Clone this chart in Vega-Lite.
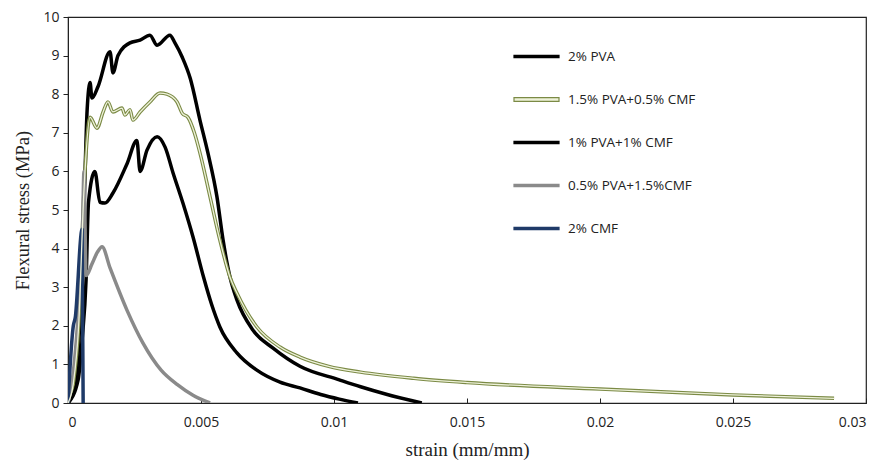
{
  "$schema": "https://vega.github.io/schema/vega-lite/v6.json",
  "width": 798,
  "height": 386,
  "autosize": {"type": "none"},
  "padding": {"left": 68, "top": 17, "right": 14, "bottom": 65},
  "background": "white",
  "config": {
    "view": {"stroke": "#222222", "strokeWidth": 1.2},
    "axis": {"grid": false, "domainColor": "#222222", "tickColor": "#222222", "labelColor": "#222222", "titleColor": "#222222", "labelFont": "Open Sans", "labelFontSize": 14, "titleFont": "Liberation Serif", "titleFontSize": 19, "titleFontWeight": "normal", "labelOverlap": false}
  },
  "data": {"values": [
    {"s": "2% PVA", "x": 0, "y": 0},
    {"s": "2% PVA", "x": 0.0002, "y": 0.3},
    {"s": "2% PVA", "x": 0.0004, "y": 1.5},
    {"s": "2% PVA", "x": 0.0006, "y": 5.0},
    {"s": "2% PVA", "x": 0.00072, "y": 7.6},
    {"s": "2% PVA", "x": 0.00083, "y": 8.3},
    {"s": "2% PVA", "x": 0.0009, "y": 7.9},
    {"s": "2% PVA", "x": 0.00113, "y": 8.2},
    {"s": "2% PVA", "x": 0.00158, "y": 9.1},
    {"s": "2% PVA", "x": 0.00169, "y": 8.55},
    {"s": "2% PVA", "x": 0.00188, "y": 9.0},
    {"s": "2% PVA", "x": 0.00233, "y": 9.33},
    {"s": "2% PVA", "x": 0.00271, "y": 9.4},
    {"s": "2% PVA", "x": 0.00308, "y": 9.53},
    {"s": "2% PVA", "x": 0.00335, "y": 9.27},
    {"s": "2% PVA", "x": 0.00383, "y": 9.53},
    {"s": "2% PVA", "x": 0.00402, "y": 9.33},
    {"s": "2% PVA", "x": 0.0043, "y": 8.95},
    {"s": "2% PVA", "x": 0.0046, "y": 8.4},
    {"s": "2% PVA", "x": 0.00496, "y": 7.33},
    {"s": "2% PVA", "x": 0.00526, "y": 6.48},
    {"s": "2% PVA", "x": 0.0056, "y": 5.34},
    {"s": "2% PVA", "x": 0.00583, "y": 4.22},
    {"s": "2% PVA", "x": 0.00609, "y": 3.26},
    {"s": "2% PVA", "x": 0.00635, "y": 2.67},
    {"s": "2% PVA", "x": 0.00695, "y": 1.89},
    {"s": "2% PVA", "x": 0.00771, "y": 1.42},
    {"s": "2% PVA", "x": 0.00872, "y": 0.95},
    {"s": "2% PVA", "x": 0.0102, "y": 0.6},
    {"s": "2% PVA", "x": 0.011, "y": 0.42},
    {"s": "2% PVA", "x": 0.012, "y": 0.22},
    {"s": "2% PVA", "x": 0.0133, "y": 0},
    {"s": "1.5% PVA+0.5% CMF", "x": 0, "y": 0},
    {"s": "1.5% PVA+0.5% CMF", "x": 0.0002, "y": 0.5},
    {"s": "1.5% PVA+0.5% CMF", "x": 0.0004, "y": 2.0},
    {"s": "1.5% PVA+0.5% CMF", "x": 0.0006, "y": 5.5},
    {"s": "1.5% PVA+0.5% CMF", "x": 0.00083, "y": 7.4},
    {"s": "1.5% PVA+0.5% CMF", "x": 0.00109, "y": 7.12},
    {"s": "1.5% PVA+0.5% CMF", "x": 0.00132, "y": 7.54},
    {"s": "1.5% PVA+0.5% CMF", "x": 0.0015, "y": 7.8},
    {"s": "1.5% PVA+0.5% CMF", "x": 0.00169, "y": 7.54},
    {"s": "1.5% PVA+0.5% CMF", "x": 0.00203, "y": 7.64},
    {"s": "1.5% PVA+0.5% CMF", "x": 0.00214, "y": 7.46},
    {"s": "1.5% PVA+0.5% CMF", "x": 0.00233, "y": 7.6},
    {"s": "1.5% PVA+0.5% CMF", "x": 0.00244, "y": 7.33},
    {"s": "1.5% PVA+0.5% CMF", "x": 0.00271, "y": 7.54},
    {"s": "1.5% PVA+0.5% CMF", "x": 0.00308, "y": 7.8},
    {"s": "1.5% PVA+0.5% CMF", "x": 0.00346, "y": 8.03},
    {"s": "1.5% PVA+0.5% CMF", "x": 0.00372, "y": 8.0},
    {"s": "1.5% PVA+0.5% CMF", "x": 0.0041, "y": 7.8},
    {"s": "1.5% PVA+0.5% CMF", "x": 0.0043, "y": 7.5},
    {"s": "1.5% PVA+0.5% CMF", "x": 0.00451, "y": 7.4},
    {"s": "1.5% PVA+0.5% CMF", "x": 0.00475, "y": 7.0},
    {"s": "1.5% PVA+0.5% CMF", "x": 0.00496, "y": 6.48},
    {"s": "1.5% PVA+0.5% CMF", "x": 0.00534, "y": 5.34},
    {"s": "1.5% PVA+0.5% CMF", "x": 0.00571, "y": 4.22},
    {"s": "1.5% PVA+0.5% CMF", "x": 0.00609, "y": 3.26},
    {"s": "1.5% PVA+0.5% CMF", "x": 0.00635, "y": 2.85},
    {"s": "1.5% PVA+0.5% CMF", "x": 0.0071, "y": 1.97},
    {"s": "1.5% PVA+0.5% CMF", "x": 0.00797, "y": 1.45},
    {"s": "1.5% PVA+0.5% CMF", "x": 0.00872, "y": 1.19},
    {"s": "1.5% PVA+0.5% CMF", "x": 0.0098, "y": 0.95},
    {"s": "1.5% PVA+0.5% CMF", "x": 0.011, "y": 0.8},
    {"s": "1.5% PVA+0.5% CMF", "x": 0.013, "y": 0.64},
    {"s": "1.5% PVA+0.5% CMF", "x": 0.015, "y": 0.53},
    {"s": "1.5% PVA+0.5% CMF", "x": 0.02, "y": 0.36},
    {"s": "1.5% PVA+0.5% CMF", "x": 0.025, "y": 0.21},
    {"s": "1.5% PVA+0.5% CMF", "x": 0.0288, "y": 0.12},
    {"s": "1% PVA+1% CMF", "x": 0, "y": 0},
    {"s": "1% PVA+1% CMF", "x": 0.00038, "y": 0.6},
    {"s": "1% PVA+1% CMF", "x": 0.00053, "y": 1.63},
    {"s": "1% PVA+1% CMF", "x": 0.00068, "y": 3.2},
    {"s": "1% PVA+1% CMF", "x": 0.00077, "y": 5.2},
    {"s": "1% PVA+1% CMF", "x": 0.00101, "y": 6.0},
    {"s": "1% PVA+1% CMF", "x": 0.0012, "y": 5.2},
    {"s": "1% PVA+1% CMF", "x": 0.00139, "y": 5.18},
    {"s": "1% PVA+1% CMF", "x": 0.00169, "y": 5.44},
    {"s": "1% PVA+1% CMF", "x": 0.00222, "y": 6.2},
    {"s": "1% PVA+1% CMF", "x": 0.00259, "y": 6.8},
    {"s": "1% PVA+1% CMF", "x": 0.00271, "y": 6.0},
    {"s": "1% PVA+1% CMF", "x": 0.00297, "y": 6.55},
    {"s": "1% PVA+1% CMF", "x": 0.00335, "y": 6.9},
    {"s": "1% PVA+1% CMF", "x": 0.00365, "y": 6.63},
    {"s": "1% PVA+1% CMF", "x": 0.00395, "y": 5.96},
    {"s": "1% PVA+1% CMF", "x": 0.00432, "y": 5.18},
    {"s": "1% PVA+1% CMF", "x": 0.0047, "y": 4.3},
    {"s": "1% PVA+1% CMF", "x": 0.0051, "y": 3.25},
    {"s": "1% PVA+1% CMF", "x": 0.0054, "y": 2.55},
    {"s": "1% PVA+1% CMF", "x": 0.00571, "y": 1.97},
    {"s": "1% PVA+1% CMF", "x": 0.00635, "y": 1.3},
    {"s": "1% PVA+1% CMF", "x": 0.0071, "y": 0.85},
    {"s": "1% PVA+1% CMF", "x": 0.00797, "y": 0.54},
    {"s": "1% PVA+1% CMF", "x": 0.00872, "y": 0.39},
    {"s": "1% PVA+1% CMF", "x": 0.0095, "y": 0.22},
    {"s": "1% PVA+1% CMF", "x": 0.0102, "y": 0.1},
    {"s": "1% PVA+1% CMF", "x": 0.0109, "y": 0},
    {"s": "0.5% PVA+1.5%CMF", "x": 0, "y": 0},
    {"s": "0.5% PVA+1.5%CMF", "x": 0.0002, "y": 0.8},
    {"s": "0.5% PVA+1.5%CMF", "x": 0.0004, "y": 2.5},
    {"s": "0.5% PVA+1.5%CMF", "x": 0.00055, "y": 4.6},
    {"s": "0.5% PVA+1.5%CMF", "x": 0.0006, "y": 6.0},
    {"s": "0.5% PVA+1.5%CMF", "x": 0.00068, "y": 3.3},
    {"s": "0.5% PVA+1.5%CMF", "x": 0.0009, "y": 3.6},
    {"s": "0.5% PVA+1.5%CMF", "x": 0.0011, "y": 3.9},
    {"s": "0.5% PVA+1.5%CMF", "x": 0.00128, "y": 4.05},
    {"s": "0.5% PVA+1.5%CMF", "x": 0.00158, "y": 3.5},
    {"s": "0.5% PVA+1.5%CMF", "x": 0.00222, "y": 2.4},
    {"s": "0.5% PVA+1.5%CMF", "x": 0.00282, "y": 1.55},
    {"s": "0.5% PVA+1.5%CMF", "x": 0.0035, "y": 0.85},
    {"s": "0.5% PVA+1.5%CMF", "x": 0.0041, "y": 0.48},
    {"s": "0.5% PVA+1.5%CMF", "x": 0.0047, "y": 0.2},
    {"s": "0.5% PVA+1.5%CMF", "x": 0.00534, "y": 0},
    {"s": "2% CMF", "x": 0, "y": 0},
    {"s": "2% CMF", "x": 0.0002, "y": 2.0},
    {"s": "2% CMF", "x": 0.00027, "y": 2.2},
    {"s": "2% CMF", "x": 0.00053, "y": 4.5},
    {"s": "2% CMF", "x": 0.00057, "y": 0}
  ]},
  "encoding": {
    "x": {"field": "x", "type": "quantitative", "scale": {"domain": [0, 0.03], "nice": false},
      "axis": {"title": "strain (mm/mm)", "values": [0, 0.005, 0.01, 0.015, 0.02, 0.025, 0.03], "format": "~g", "tickSize": -5, "labelPadding": 17, "titlePadding": 11}},
    "y": {"field": "y", "type": "quantitative", "scale": {"domain": [0, 10], "nice": false},
      "axis": {"title": "Flexural stress (MPa)", "titleFontSize": 18.5, "values": [0,1,2,3,4,5,6,7,8,9,10], "tickSize": 5, "labelPadding": 4, "titlePadding": 10}},
    "order": {"field": "x", "type": "quantitative"}
  },
  "layer": [
    {
      "mark": {"type": "line", "strokeWidth": 3.5, "strokeJoin": "round", "interpolate": "monotone", "clip": true},
      "encoding": {
        "color": {"field": "s", "type": "nominal",
          "scale": {"domain": ["2% PVA", "1.5% PVA+0.5% CMF", "1% PVA+1% CMF", "0.5% PVA+1.5%CMF", "2% CMF"],
                    "range": ["#000000", "#7b8a45", "#000000", "#8a8a8a", "#1f3a68"]},
          "legend": {"title": null, "orient": "none", "legendX": 445, "legendY": 16, "padding": 0,
            "symbolSize": 2025, "symbolStrokeWidth": 1.2, "rowPadding": 13,
            "labelFont": "Open Sans", "labelFontSize": 13.5, "labelColor": "#222222", "labelOffset": 8,
            "encode": {"symbols": {"update": {
              "size": {"value": 2025},
              "shape": {"signal": "datum.value === '1.5% PVA+0.5% CMF' ? 'M-1,-0.085H1V0.085H-1Z' : 'M-1,-0.053H1V0.053H-1Z'"},
              "fill": {"signal": "datum.value === '1.5% PVA+0.5% CMF' ? '#eef2da' : scale('color', datum.value)"}
            }}}}
        }
      }
    },
    {
      "transform": [{"filter": "datum.s === '1.5% PVA+0.5% CMF'"}],
      "mark": {"type": "line", "strokeWidth": 1.3, "color": "#eef2da", "strokeJoin": "round", "interpolate": "monotone", "clip": true}
    }
  ]
}
